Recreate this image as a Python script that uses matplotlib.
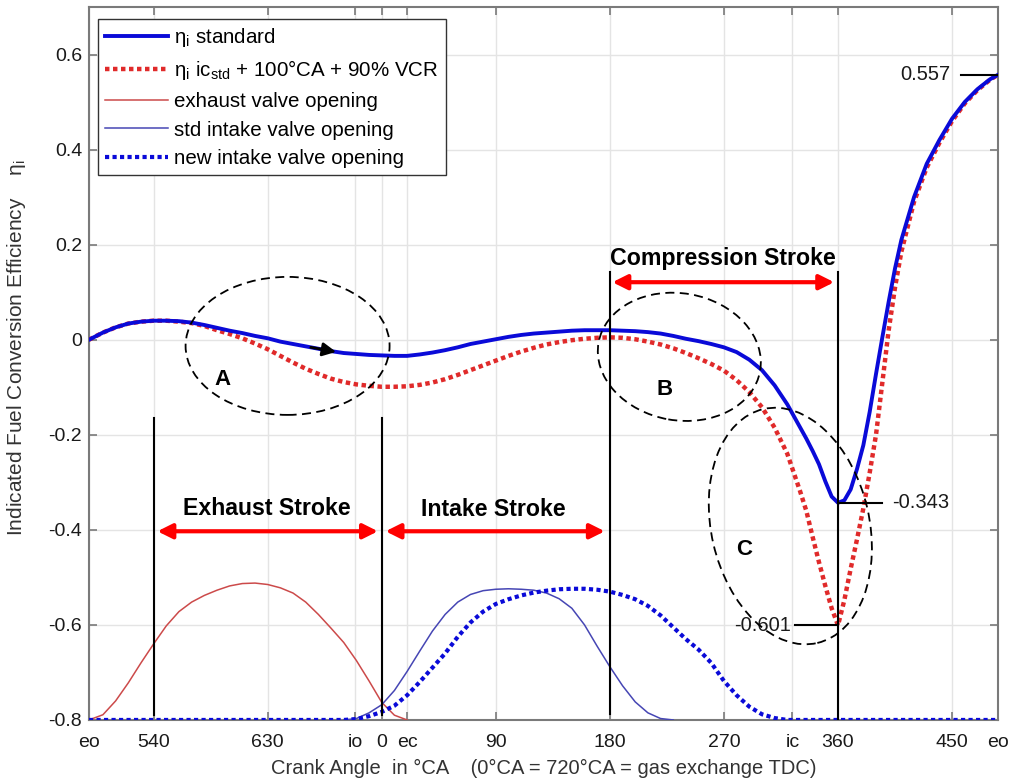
import numpy as np
import matplotlib
matplotlib.use("Agg")
import matplotlib.pyplot as plt
from matplotlib.patches import Ellipse
from matplotlib.transforms import ScaledTranslation

plt.rcParams['font.family'] = ['Liberation Sans', 'DejaVu Sans']
plt.rcParams['mathtext.fontset'] = 'custom'
plt.rcParams['mathtext.rm'] = 'Liberation Sans'

# Crank angle on a continuous scale (540..1260 covers one cycle, 720 == 0 deg TDC)
ca_eta = [489, 500, 510, 520, 530, 540, 550, 560, 570, 580, 590, 600, 610, 620,
          630, 640, 650, 660, 670, 680, 690, 700, 710, 720, 730, 740, 750, 760,
          770, 780, 790, 800, 810, 820, 830, 840, 850, 860, 870, 880, 890, 900,
          910, 920, 930, 940, 950, 960, 970, 980, 990, 1000, 1010, 1020, 1030,
          1040, 1050, 1055, 1060, 1065, 1070, 1075, 1080, 1085, 1090, 1095, 1100,
          1105, 1110, 1115, 1120, 1125, 1130, 1140, 1150, 1160, 1170, 1180, 1190,
          1200, 1206]

eta_std = [0.000, 0.015, 0.026, 0.034, 0.038, 0.040, 0.040, 0.039, 0.036, 0.031,
           0.025, 0.019, 0.014, 0.008, 0.003, -0.004, -0.009, -0.014, -0.019,
           -0.024, -0.028, -0.030, -0.032, -0.033, -0.034, -0.034, -0.031, -0.027,
           -0.022, -0.016, -0.009, -0.004, 0.001, 0.006, 0.010, 0.013, 0.015,
           0.017, 0.019, 0.020, 0.020, 0.020, 0.019, 0.018, 0.016, 0.013, 0.008,
           0.002, -0.003, -0.009, -0.016, -0.026, -0.042, -0.064, -0.096, -0.136,
           -0.184, -0.208, -0.234, -0.262, -0.298, -0.330, -0.343, -0.338, -0.315,
           -0.272, -0.222, -0.152, -0.072, 0.005, 0.080, 0.150, 0.210, 0.300,
           0.370, 0.420, 0.465, 0.500, 0.527, 0.548, 0.557]

eta_vcr = [0.000, 0.015, 0.026, 0.034, 0.038, 0.040, 0.040, 0.038, 0.035, 0.029,
           0.020, 0.012, 0.003, -0.008, -0.020, -0.034, -0.048, -0.061, -0.072,
           -0.082, -0.089, -0.094, -0.097, -0.099, -0.099, -0.098, -0.095, -0.090,
           -0.083, -0.074, -0.064, -0.054, -0.044, -0.034, -0.025, -0.017, -0.010,
           -0.005, -0.001, 0.002, 0.004, 0.005, 0.004, 0.001, -0.004, -0.010,
           -0.018, -0.028, -0.039, -0.051, -0.065, -0.085, -0.110, -0.142, -0.185,
           -0.240, -0.318, -0.360, -0.415, -0.468, -0.518, -0.565, -0.601, -0.548,
           -0.482, -0.420, -0.355, -0.280, -0.200, -0.090, 0.020, 0.110, 0.185,
           0.290, 0.362, 0.414, 0.460, 0.497, 0.525, 0.547, 0.557]

# Valve lift traces, drawn on the efficiency scale
ca_exh = [489, 500, 510, 520, 530, 540, 550, 560, 570, 580, 590, 600, 610, 620,
          630, 640, 650, 660, 670, 680, 690, 700, 710, 720, 730, 740]
exh_valve = [-0.800, -0.789, -0.760, -0.722, -0.680, -0.640, -0.602, -0.572,
             -0.552, -0.538, -0.527, -0.518, -0.513, -0.512, -0.515, -0.522,
             -0.533, -0.552, -0.578, -0.607, -0.637, -0.675, -0.718, -0.763,
             -0.790, -0.800]

ca_int_std = [690, 700, 710, 720, 730, 740, 750, 760, 770, 780, 790, 800, 810,
              820, 830, 840, 850, 860, 870, 880, 890, 900, 910, 920, 930, 940, 950]
int_std_valve = [-0.800, -0.797, -0.785, -0.768, -0.738, -0.698, -0.655, -0.613,
                 -0.578, -0.552, -0.536, -0.528, -0.525, -0.524, -0.525, -0.527,
                 -0.533, -0.545, -0.565, -0.600, -0.645, -0.688, -0.728, -0.762,
                 -0.785, -0.797, -0.800]

ca_int_new = [489, 690, 700, 710, 720, 730, 740, 750, 760, 770, 780, 790, 800,
              810, 820, 830, 840, 850, 860, 870, 880, 890, 900, 910, 920, 930,
              940, 950, 960, 970, 980, 990, 1000, 1010, 1020, 1030, 1040, 1206]
int_new_valve = [-0.800, -0.800, -0.798, -0.792, -0.783, -0.770, -0.748, -0.720,
                 -0.690, -0.660, -0.625, -0.595, -0.572, -0.556, -0.546, -0.538,
                 -0.532, -0.528, -0.525, -0.524, -0.524, -0.526, -0.530, -0.537,
                 -0.546, -0.560, -0.580, -0.605, -0.630, -0.652, -0.680, -0.718,
                 -0.748, -0.772, -0.788, -0.796, -0.800, -0.800]

x_ticks = [489, 540, 630, 699, 720, 740, 810, 900, 990, 1044, 1080, 1170, 1206]
x_ticklabels = ['eo', '540', '630', 'io', '0', 'ec', '90', '180', '270', 'ic',
                '360', '450', 'eo']
y_ticks = [-0.8, -0.6, -0.4, -0.2, 0.0, 0.2, 0.4, 0.6]
y_ticklabels = ['-0.8', '-0.6', '-0.4', '-0.2', '0', '0.2', '0.4', '0.6']

peak_end = 0.557
min_std = -0.343
min_vcr = -0.601

fig = plt.figure(figsize=(10.17, 7.78), dpi=100)
ax = fig.add_axes([0.0875, 0.0746, 0.8935, 0.9164])
ax.set_xlim(489, 1206)
ax.set_ylim(-0.8, 0.7)

ax.grid(True, color='#e4e4e4', lw=1.0)
ax.set_axisbelow(True)
for s in ax.spines.values():
    s.set_color('#7a7a7a')
    s.set_linewidth(1.5)
ax.tick_params(direction='in', length=6, width=1.2, color='#7a7a7a',
               top=True, right=True, labelsize=14, labelcolor='#1a1a1a')
ax.tick_params(axis='x', pad=10)
ax.tick_params(axis='y', pad=5)
ax.set_xticks(x_ticks)
ax.set_xticklabels(x_ticklabels)
ax.set_yticks(y_ticks)
ax.set_yticklabels(y_ticklabels)

l1, = ax.plot(ca_eta, eta_std, color='#0a0ad8', lw=2.8, zorder=5,
              label=r'η$_\mathregular{i}$ standard')
l2, = ax.plot(ca_eta, eta_vcr, color='#e02a2a', lw=3.2, ls=(0, (1, 0.8)),
              zorder=4, label=r'η$_\mathregular{i}$ ic$_\mathregular{std}$ + 100°CA + 90% VCR')
l3, = ax.plot(ca_exh, exh_valve, color='#cc4a4a', lw=1.1, zorder=3,
              label='exhaust valve opening')
l4, = ax.plot(ca_int_std, int_std_valve, color='#4646b4', lw=1.1, zorder=3,
              label='std intake valve opening')
l5, = ax.plot(ca_int_new, int_new_valve, color='#0a0ad8', lw=3.0, ls=(0, (1, 0.8)),
              zorder=3, label='new intake valve opening')

# stroke boundaries
ax.plot([540, 540], [-0.165, -0.79], color='black', lw=1.5, zorder=6)
ax.plot([720, 720], [-0.165, -0.79], color='black', lw=1.5, zorder=6)
ax.plot([900, 900], [0.143, -0.787], color='black', lw=1.5, zorder=6)
ax.plot([1080, 1080], [0.143, -0.8], color='black', lw=1.5, zorder=6)

# stroke arrows
arrow_kw = dict(arrowstyle='<|-|>', color='#ff0000', lw=3, mutation_scale=22,
                shrinkA=0, shrinkB=0)
ax.annotate('', xy=(543, -0.403), xytext=(717, -0.403), arrowprops=arrow_kw, zorder=7)
ax.annotate('', xy=(723, -0.403), xytext=(896, -0.403), arrowprops=arrow_kw, zorder=7)
ax.annotate('', xy=(902, 0.121), xytext=(1077, 0.121), arrowprops=arrow_kw, zorder=7)
bold = dict(fontsize=16.7, fontweight='bold', ha='center', va='center', color='black')
ax.text(629, -0.355, 'Exhaust Stroke', **bold)
ax.text(808, -0.358, 'Intake Stroke', **bold)
ax.text(989, 0.170, 'Compression Stroke', **bold)

# highlighted regions
def ring(cx, cy, w_in, h_in, ang):
    tr = fig.dpi_scale_trans + ScaledTranslation(cx, cy, ax.transData)
    ax.add_patch(Ellipse((0, 0), w_in, h_in, angle=ang, transform=tr, fill=False,
                         ls=(0, (5, 3)), lw=1.3, color='black', zorder=8))

ring(645.7, -0.013, 2.04, 1.38, 0)
ring(954.8, -0.036, 1.64, 1.27, -10)
ring(1042.4, -0.392, 1.58, 2.40, 13)
reg = dict(fontsize=16, fontweight='bold', ha='center', va='center')
ax.text(594, -0.084, 'A', **reg)
ax.text(943, -0.105, 'B', **reg)
ax.text(1006, -0.442, 'C', **reg)

# direction arrow along the standard curve
ax.annotate('', xy=(684, np.interp(684, ca_eta, eta_std)),
            xytext=(664, np.interp(664, ca_eta, eta_std)),
            arrowprops=dict(arrowstyle='-|>', color='black', lw=2,
                            mutation_scale=20, shrinkA=0, shrinkB=0), zorder=9)

# value markers
ax.plot([1177, 1206], [peak_end, peak_end], color='black', lw=1.5, zorder=9)
ax.text(1169, peak_end, f'{peak_end:.3f}', fontsize=14.5, ha='right', va='center',
        color='#1a1a1a')
ax.plot([1080, 1115], [min_std, min_std], color='black', lw=1.5, zorder=9)
ax.text(1123, min_std, f'{min_std:.3f}', fontsize=14.5, ha='left', va='center',
        color='#1a1a1a')
ax.plot([1046, 1080], [min_vcr, min_vcr], color='black', lw=1.5, zorder=9)
ax.text(1043, min_vcr, f'{min_vcr:.3f}', fontsize=14.5, ha='right', va='center',
        color='#1a1a1a')

ax.set_xlabel('Crank Angle  in °CA    (0°CA = 720°CA = gas exchange TDC)',
              fontsize=14.5, color='#333333', labelpad=6)
ax.set_ylabel(r'Indicated Fuel Conversion Efficiency    η$_\mathregular{i}$',
              fontsize=15, color='#333333')
ax.yaxis.set_label_coords(-0.067, 0.523)

leg = ax.legend(handles=[l1, l2, l3, l4, l5], loc='upper left',
                bbox_to_anchor=(0.0099, 0.983), borderaxespad=0, fontsize=14.8,
                fancybox=False, edgecolor='#333333', framealpha=1,
                handlelength=3.1, labelspacing=0.47, borderpad=0.32,
                handletextpad=0.3)
leg.get_frame().set_linewidth(1.0)
leg.set_zorder(10)

fig.savefig('out.png', dpi=100)
